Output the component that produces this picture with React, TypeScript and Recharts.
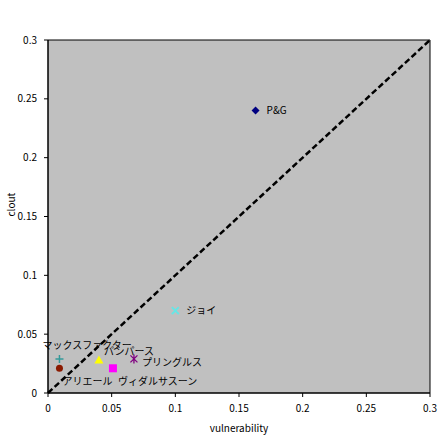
import { ScatterChart, Scatter, XAxis, YAxis, ReferenceArea, ReferenceLine } from 'recharts';

// brand positions (vulnerability vs clout)
const brands = ['P&G', 'ジョイ', 'マックスファクター', 'アリエール', 'パンパース', 'ヴィダルサスーン', 'プリングルス'];
const vulnerability = [0.163, 0.1, 0.009, 0.009, 0.04, 0.051, 0.0675];
const clout = [0.24, 0.07, 0.029, 0.021, 0.028, 0.021, 0.029];

const xTicks = [0, 0.05, 0.1, 0.15, 0.2, 0.25, 0.3];
const yTicks = [0, 0.05, 0.1, 0.15, 0.2, 0.25, 0.3];

// marker + label styling per brand
const markerStyle: Record<string, { shape: string; color: string; dx: number; dy: number }> = {
  'P&G': { shape: 'diamond', color: '#000080', dx: 11, dy: 0 },
  'ジョイ': { shape: 'x', color: '#66E6E6', dx: 11, dy: 0 },
  'マックスファクター': { shape: 'plus', color: '#339999', dx: -17, dy: -13 },
  'アリエール': { shape: 'circle', color: '#8B1A00', dx: 3, dy: 13 },
  'パンパース': { shape: 'triangle', color: '#FFFF00', dx: 5, dy: -9 },
  'ヴィダルサスーン': { shape: 'square', color: '#FF00FF', dx: 5, dy: 13 },
  'プリングルス': { shape: 'asterisk', color: '#800080', dx: 8, dy: 4 },
};

const FONT = '"Noto Sans CJK JP", "Noto Sans", sans-serif';

const Marker = ({ shape, color, cx, cy }: { shape: string; color: string; cx: number; cy: number }) => {
  switch (shape) {
    case 'diamond':
      return <path d={`M${cx},${cy - 4} L${cx + 4},${cy} L${cx},${cy + 4} L${cx - 4},${cy} Z`} fill={color} />;
    case 'x':
      return <path d={`M${cx - 3.5},${cy - 3.5} L${cx + 3.5},${cy + 3.5} M${cx - 3.5},${cy + 3.5} L${cx + 3.5},${cy - 3.5}`} stroke={color} strokeWidth={2} />;
    case 'plus':
      return <path d={`M${cx - 4},${cy} L${cx + 4},${cy} M${cx},${cy - 4} L${cx},${cy + 4}`} stroke={color} strokeWidth={1.5} />;
    case 'circle':
      return <circle cx={cx} cy={cy} r={3.5} fill={color} />;
    case 'triangle':
      return <path d={`M${cx},${cy - 4.5} L${cx + 4.5},${cy + 3.5} L${cx - 4.5},${cy + 3.5} Z`} fill={color} />;
    case 'square':
      return <rect x={cx - 4} y={cy - 4} width={8} height={8} fill={color} />;
    default:
      return (
        <path
          d={`M${cx - 3.5},${cy - 3.5} L${cx + 3.5},${cy + 3.5} M${cx - 3.5},${cy + 3.5} L${cx + 3.5},${cy - 3.5} M${cx},${cy - 4.5} L${cx},${cy + 4.5}`}
          stroke={color}
          strokeWidth={1.3}
        />
      );
  }
};

const App = () => {
  return (
    <div style={{ position: 'absolute', left: 0, top: 0 }}>
      <ScatterChart width={448} height={439} margin={{ top: 40, right: 18, left: 0, bottom: 0 }}>
        <XAxis
          type="number"
          dataKey="x"
          domain={[0, 0.3]}
          ticks={xTicks}
          height={46}
          tickSize={4}
          tickMargin={8}
          stroke="#000"
          tick={{ fill: '#000', fontSize: 10, fontFamily: FONT }}
          label={{ value: 'vulnerability', position: 'insideBottom', offset: 7, fill: '#000', fontSize: 10, fontFamily: FONT }}
        />
        <YAxis
          type="number"
          dataKey="y"
          domain={[0, 0.3]}
          ticks={yTicks}
          width={48}
          tickSize={4}
          tickMargin={7}
          stroke="#000"
          tick={{ fill: '#000', fontSize: 10, fontFamily: FONT }}
          label={{ value: 'clout', angle: -90, position: 'insideLeft', offset: 11, fill: '#000', fontSize: 10, fontFamily: FONT }}
        />
        <ReferenceArea x1={0} x2={0.3} y1={0} y2={0.3} fill="#C0C0C0" fillOpacity={1} stroke="#000" strokeWidth={1} />
        <ReferenceLine
          segment={[{ x: 0, y: 0 }, { x: 0.3, y: 0.3 }]}
          stroke="#000"
          strokeWidth={2.5}
          strokeDasharray="6 3"
        />
        {brands.map((name, i) => {
          const st = markerStyle[name];
          return (
            <Scatter
              key={name}
              name={name}
              data={[{ x: vulnerability[i], y: clout[i] }]}
              isAnimationActive={false}
              shape={(props: any) => (
                <g>
                  <Marker shape={st.shape} color={st.color} cx={props.cx} cy={props.cy} />
                  <text
                    x={props.cx + st.dx}
                    y={props.cy + st.dy}
                    dy="0.35em"
                    fontSize={10}
                    fontFamily={FONT}
                    fill="#000"
                  >
                    {name}
                  </text>
                </g>
              )}
            />
          );
        })}
      </ScatterChart>
    </div>
  );
};

export default App;
